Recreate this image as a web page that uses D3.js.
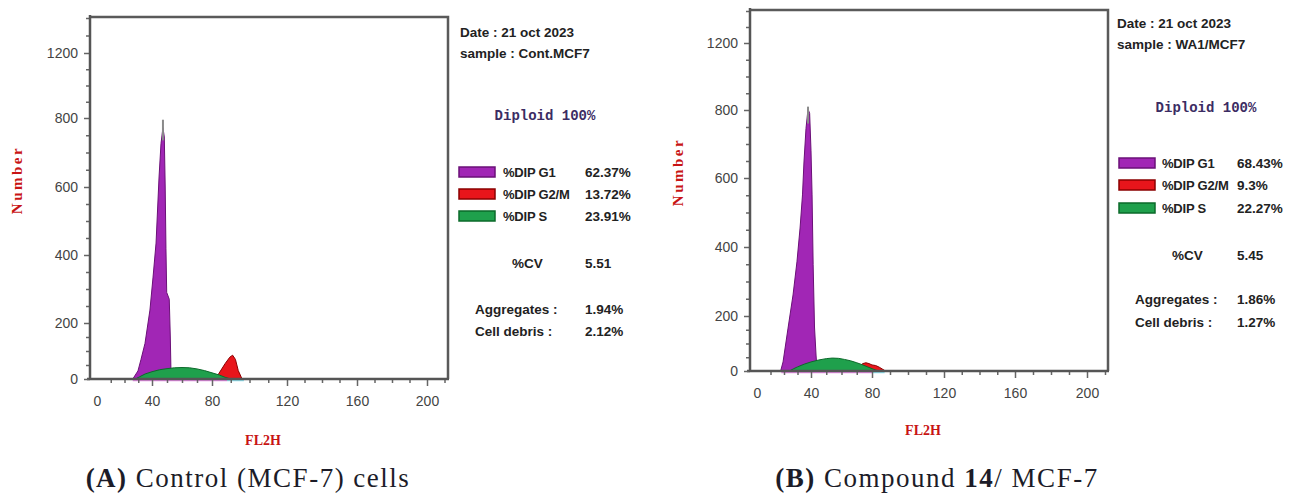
<!DOCTYPE html>
<html>
<head>
<meta charset="utf-8">
<script src="https://cdn.jsdelivr.net/npm/d3@7"></script>
<style>
  html, body { margin: 0; padding: 0; background: #ffffff; }
  svg { display: block; }
</style>
</head>
<body>
<svg id="chart" width="1293" height="494"></svg>
<script>
// ---------------- DATA ----------------
const xTickLabels = [0, 40, 80, 120, 160, 200];
const yTickLabels = [0, 200, 400, 600, 800, 1200];
const yBreaks = [0, 200, 400, 600, 800, 1200, 1400];

// Panel A: Control (MCF-7) — [FL2H channel, count]
const g1A = [[26,0],[29.8,29],[32,70],[34.9,127],[38.5,238],[40.7,335],[42.7,435],[44.7,629],[46,726],[47.3,772],[48.2,745],[48.8,600],[49.3,420],[49.8,290],[51.5,270],[52.2,150],[52.6,40],[53,0]];
const sA  = [[28,0],[31,8],[35,18],[40,26],[45,33],[50,37],[55,40],[60,41],[65,40],[70,36],[75,30],[80,22],[84,14],[87,6],[90,0]];
const g2mA = [[82,0],[83.5,18],[87,55],[89.5,78],[91,85],[92.5,70],[94,30],[95.5,8],[96,0]];
const tipA = [47.3, 795];
const debrisA = [26, 88];
const aggA = [88, 97];

// Panel B: Compound 14 / MCF-7
const g1B = [[17.5,0],[19.3,33],[23,156],[26.7,261],[29.6,357],[31.9,455],[33.7,551],[34.8,647],[36.3,746],[37.8,806],[39,790],[40,680],[40.7,551],[41.4,350],[42.3,160],[43.3,58],[44,0]];
const sB  = [[24,0],[27,8],[30,15],[35,25],[40,33],[45,40],[50,45],[54,47],[58,46],[62,42],[66,37],[70,30],[74,22],[78,13],[81,6],[83.5,0]];
const g2mB = [[70,0],[72,18],[74,27],[76,30],[78,27],[80,22],[82,20],[84,14],[86,6],[87.5,0]];
const tipB = [37.8, 820];
const debrisB = [18, 80];
const aggB = [80, 87];

const phaseLabels = ["%DIP G1", "%DIP G2/M", "%DIP S"];
const statsA = { date: "Date : 21 oct 2023", sample: "sample :  Cont.MCF7", phases: ["62.37%", "13.72%", "23.91%"], cv: "5.51", agg: "1.94%", debris: "2.12%" };
const statsB = { date: "Date : 21 oct 2023", sample: "sample : WA1/MCF7", phases: ["68.43%", "9.3%", "22.27%"], cv: "5.45", agg: "1.86%", debris: "1.27%" };

// ---------------- LAYOUT / STYLE ----------------
const colors = {
  g1: { fill: "#a126b5", stroke: "#6b1078" },
  g2m: { fill: "#e8151b", stroke: "#8b0000" },
  s: { fill: "#1fa04c", stroke: "#0b6a2a" }
};

const panels = [
  {
    g1: g1A, s: sA, g2m: g2mA, tip: tipA, debris: debrisA, agg: aggA, stats: statsA,
    frame: { x0: 90, x1: 448, top: 17 },
    xPos: [97, 152, 212, 287, 357, 427],
    yPos: [379, 323, 255, 187, 118, 53, 18],
    numberLabel: { x: 17, y: 180 },
    fl2h: { x: 263, y: 445 },
    caption: { x: 248, y: 487, parts: [["(A)", true], [" Control (MCF-7) cells", false]] },
    legend: { tx: 460, dateY: 32, sampleY: 53, dipX: 545, dipY: 115, swX: 459, rowY: [172, 194, 216], labX: 503, valX: 585, cvX: 512, cvY: 263, aggX: 475, aggY: 309, debY: 331 }
  },
  {
    g1: g1B, s: sB, g2m: g2mB, tip: tipB, debris: debrisB, agg: aggB, stats: statsB,
    frame: { x0: 750, x1: 1108, top: 10 },
    xPos: [757, 811, 872, 944, 1015, 1087],
    yPos: [371, 316, 247, 178, 110, 43, 11],
    numberLabel: { x: 678, y: 172 },
    fl2h: { x: 923, y: 435 },
    caption: { x: 937, y: 487, parts: [["(B)", true], [" Compound ", false], ["14", true], ["/ MCF-7", false]] },
    legend: { tx: 1117, dateY: 23, sampleY: 44, dipX: 1206, dipY: 107, swX: 1119, rowY: [163, 185, 208], labX: 1162, valX: 1237, cvX: 1172, cvY: 255, aggX: 1135, aggY: 299, debY: 322 }
  }
];

const svg = d3.select("#chart");
const axisColor = "#555";
const tickFont = "'Liberation Sans', Arial, sans-serif";
const legendFont = "'Liberation Sans Narrow', 'Arial Narrow', 'Liberation Sans', sans-serif";

panels.forEach(p => {
  const g = svg.append("g");
  const x = d3.scaleLinear().domain(xTickLabels).range(p.xPos);
  const y = d3.scaleLinear().domain(yBreaks).range(p.yPos);
  const base = y(0);

  // histogram areas
  const area = d3.area().x(d => x(d[0])).y0(base).y1(d => y(d[1]));
  [["g1", p.g1], ["g2m", p.g2m], ["s", p.s]].forEach(([k, data]) => {
    g.append("path").datum(data).attr("d", area)
      .attr("fill", colors[k].fill).attr("stroke", colors[k].stroke)
      .attr("stroke-width", 1).attr("stroke-linejoin", "round");
  });
  // raw peak tip
  g.append("line")
    .attr("x1", x(p.tip[0])).attr("x2", x(p.tip[0]))
    .attr("y1", y(p.tip[1])).attr("y2", y(p.tip[1] - 60))
    .attr("stroke", "#8a8a8a").attr("stroke-width", 2);

  // frame (top and right)
  g.append("path")
    .attr("d", `M${p.frame.x0},${p.frame.top}H${p.frame.x1}V${base}`)
    .attr("fill", "none").attr("stroke", "#5a5a5a").attr("stroke-width", 2.5);

  // baseline debris / aggregates traces
  g.append("line").attr("x1", x(p.debris[0])).attr("x2", x(p.debris[1]))
    .attr("y1", base + 1.5).attr("y2", base + 1.5).attr("stroke", "#e58ae5").attr("stroke-width", 1.5);
  g.append("line").attr("x1", x(p.agg[0])).attr("x2", x(p.agg[1]))
    .attr("y1", base + 1.5).attr("y2", base + 1.5).attr("stroke", "#8fe3f2").attr("stroke-width", 1.5);

  // X axis
  const xMinor = d3.range(10, 211, 10);
  const xAxis = d3.axisBottom(x).tickValues(xMinor).tickSize(5).tickFormat("");
  const xg = g.append("g").attr("transform", `translate(0,${base})`).call(xAxis);
  xg.select(".domain").remove();
  xg.selectAll(".tick line").attr("stroke", "#666").attr("stroke-width", 1.5)
    .attr("y2", d => (d % 40 === 0 ? 7 : 4));
  g.append("line").attr("x1", p.frame.x0 - 3).attr("x2", p.frame.x1 + 1)
    .attr("y1", base).attr("y2", base).attr("stroke", axisColor).attr("stroke-width", 2.5);
  const xl = g.append("g").attr("transform", `translate(0,${base + 24})`)
    .call(d3.axisBottom(x).tickValues(xTickLabels).tickSize(0).tickFormat(d3.format("d")));
  xl.select(".domain").remove();
  xl.selectAll("text").attr("font-family", tickFont).attr("font-size", 14)
    .attr("fill", "#444").attr("dy", "0");

  // Y axis
  const yMinor = d3.range(0, 801, 50).concat(d3.range(900, 1401, 100));
  const yAxis = d3.axisLeft(y).tickValues(yMinor).tickSize(4).tickFormat("");
  const yg = g.append("g").attr("transform", `translate(${p.frame.x0},0)`).call(yAxis);
  yg.select(".domain").remove();
  yg.selectAll(".tick line").attr("stroke", "#666").attr("stroke-width", 1.5)
    .attr("x2", d => (yTickLabels.includes(d) ? -6 : -4));
  g.append("line").attr("x1", p.frame.x0).attr("x2", p.frame.x0)
    .attr("y1", p.frame.top - 2).attr("y2", base + 1).attr("stroke", axisColor).attr("stroke-width", 2.5);
  const yl = g.append("g").attr("transform", `translate(${p.frame.x0 - 12},0)`)
    .call(d3.axisLeft(y).tickValues(yTickLabels).tickSize(0).tickFormat(d3.format("d")));
  yl.select(".domain").remove();
  yl.selectAll("text").attr("font-family", tickFont).attr("font-size", 14)
    .attr("fill", "#444").attr("x", 0);

  // Axis titles
  g.append("text").text("Number")
    .attr("transform", `translate(${p.numberLabel.x + 5},${p.numberLabel.y}) rotate(-90)`)
    .attr("text-anchor", "middle")
    .attr("font-family", "'Liberation Serif', 'Times New Roman', serif")
    .attr("font-weight", "bold").attr("font-size", 15).attr("letter-spacing", 2.5)
    .attr("fill", "#c81414");
  g.append("text").text("FL2H")
    .attr("x", p.fl2h.x).attr("y", p.fl2h.y).attr("text-anchor", "middle")
    .attr("font-family", "'Liberation Serif', 'Times New Roman', serif")
    .attr("font-weight", "bold").attr("font-size", 14)
    .attr("fill", "#c81414");

  // Caption
  const cap = g.append("text").attr("x", p.caption.x).attr("y", p.caption.y)
    .attr("text-anchor", "middle")
    .attr("font-family", "'Liberation Serif', 'Times New Roman', serif")
    .attr("font-size", 27).attr("letter-spacing", 1.5).attr("fill", "#1c1c28");
  p.caption.parts.forEach(([t, b]) => {
    cap.append("tspan").text(t).attr("font-weight", b ? "bold" : "normal");
  });

  // Legend / stats block
  const L = p.legend, S = p.stats;
  const lg = g.append("g").attr("font-family", legendFont).attr("font-weight", "bold")
    .attr("font-size", 13.5).attr("fill", "#222");
  lg.append("text").text(S.date).attr("x", L.tx).attr("y", L.dateY + 5);
  lg.append("text").text(S.sample).attr("x", L.tx).attr("y", L.sampleY + 5);
  g.append("text").text("Diploid 100%")
    .attr("x", L.dipX).attr("y", L.dipY + 5).attr("text-anchor", "middle")
    .attr("font-family", "'Liberation Mono', 'DejaVu Sans Mono', monospace")
    .attr("font-weight", "bold").attr("font-size", 14).attr("fill", "#3b2c63");
  const keys = ["g1", "g2m", "s"];
  keys.forEach((k, i) => {
    g.append("rect").attr("x", L.swX).attr("y", L.rowY[i] - 5).attr("width", 36).attr("height", 10)
      .attr("fill", colors[k].fill).attr("stroke", colors[k].stroke).attr("stroke-width", 1.5);
    lg.append("text").text(phaseLabels[i]).attr("x", L.labX).attr("y", L.rowY[i] + 5)
      .attr("font-size", 13).attr("letter-spacing", -0.2);
    lg.append("text").text(S.phases[i]).attr("x", L.valX).attr("y", L.rowY[i] + 5);
  });
  lg.append("text").text("%CV").attr("x", L.cvX).attr("y", L.cvY + 5);
  lg.append("text").text(S.cv).attr("x", L.valX).attr("y", L.cvY + 5);
  lg.append("text").text("Aggregates :").attr("x", L.aggX).attr("y", L.aggY + 5);
  lg.append("text").text(S.agg).attr("x", L.valX).attr("y", L.aggY + 5);
  lg.append("text").text("Cell debris :").attr("x", L.aggX).attr("y", L.debY + 5);
  lg.append("text").text(S.debris).attr("x", L.valX).attr("y", L.debY + 5);
});
</script>
</body>
</html>
